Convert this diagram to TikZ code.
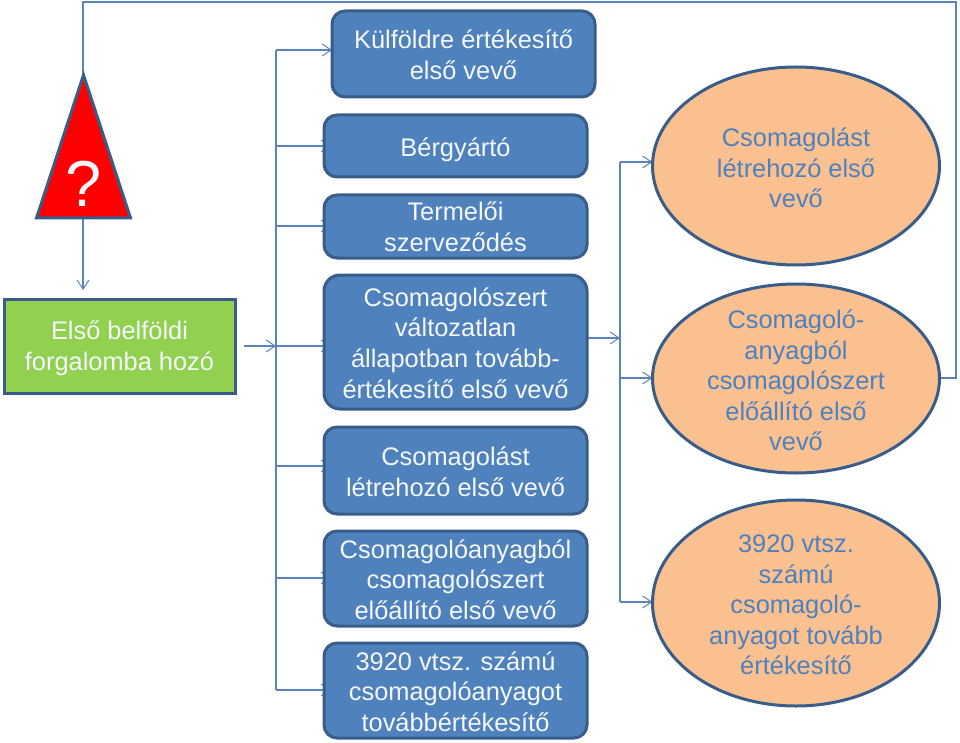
\documentclass[tikz,border=0pt]{standalone}
\usepackage{fontspec}
\setmainfont{Liberation Sans}
\usetikzlibrary{arrows.meta,backgrounds,shapes.geometric}
\definecolor{boxblue}{HTML}{4F81BD}
\definecolor{edgeblue}{HTML}{385D8A}
\definecolor{linkblue}{HTML}{5B84B8}
\definecolor{peach}{HTML}{FAC08F}
\definecolor{leaf}{HTML}{92D050}
\definecolor{softwhite}{HTML}{F4F7FB}
\tikzset{
  x=1pt,y=-1pt,
  lbl/.style={font=\fontsize{25.4}{30.6}\selectfont,align=center,inner sep=0pt,outer sep=0pt},
  light/.style={lbl,text=softwhite},
  dark/.style={lbl,text=boxblue},
  bluebox/.style={draw=edgeblue,line width=3pt,fill=boxblue,rounded corners=13pt,minimum width=263pt,inner sep=0pt,outer sep=0pt},
  greenbox/.style={draw=edgeblue,line width=3pt,fill=leaf,minimum width=231pt,minimum height=94pt,inner sep=0pt,outer sep=0pt},
  oval/.style={ellipse,draw=edgeblue,line width=3pt,fill=peach,minimum width=287pt,inner sep=0pt,outer sep=0pt},
  link/.style={draw=linkblue,line width=1.2pt},
  arrowlink/.style={link,-{Straight Barb[length=9pt,width=12pt,line width=1pt]}},
  hidden/.style={arrowlink,shorten >=-7pt}
}
\begin{document}
\begin{tikzpicture}
\useasboundingbox (0,0) rectangle (960,743);
% blue boxes
\node[bluebox,minimum height=86pt,label={[light,yshift=-1pt]center:{Külföldre értékesítő\\első vevő}}] (export) at (463.5,54) {};
\node[bluebox,minimum height=62pt,label={[light,yshift=-4pt]center:{Bérgyártó}}] (berg) at (455.5,146) {};
\node[bluebox,minimum height=63pt,label={[light,yshift=0pt]center:{Termelői\\szerveződés}}] (term) at (455.5,226.5) {};
\node[bluebox,minimum height=134pt,rounded corners=16pt,label={[light,yshift=-1pt]center:{Csomagolószert\\változatlan\\állapotban tovább-\\értékesítő első vevő}}] (valt) at (455.5,342) {};
\node[bluebox,minimum height=87pt,label={[light,yshift=-1pt]center:{Csomagolást\\létrehozó első vevő}}] (letr) at (455.5,470.5) {};
\node[bluebox,minimum height=95pt,label={[light,yshift=-1pt]center:{Csomagolóanyagból\\csomagolószert\\előállító első vevő}}] (anyag) at (455.5,578.5) {};
\node[bluebox,minimum height=95pt,label={[light,yshift=-1pt]center:{3920 vtsz. számú\\csomagolóanyagot\\továbbértékesítő}}] (vtsz) at (455.5,690.5) {};
% green box
\node[greenbox,label={[light,yshift=-2pt]center:{Első belföldi\\forgalomba hozó}}] (first) at (119.5,346) {};
% triangle
\node[inner sep=0pt,outer sep=0pt,minimum width=94pt,minimum height=143pt] (tri) at (83.5,146.5) {};
\draw[edgeblue,line width=3pt,fill=red,line join=miter] (tri.north) -- (tri.south west) -- (tri.south east) -- cycle;
\node[font=\fontsize{65}{65}\selectfont,text=softwhite,inner sep=0pt] (qm) at (tri.center) [yshift=-37.5pt] {?};
% ellipses
\node[oval,minimum height=198pt,label={[dark,yshift=-2pt]center:{Csomagolást\\létrehozó első\\vevő}}] (o1) at (796,166) {};
\node[oval,minimum height=189pt,label={[dark,yshift=-2pt]center:{Csomagoló-\\anyagból\\csomagolószert\\előállító első\\vevő}}] (o2) at (796,378.5) {};
\node[oval,minimum height=206pt,label={[dark,yshift=-2pt]center:{3920 vtsz.\\számú\\csomagoló-\\anyagot tovább\\értékesítő}}] (o3) at (796,603) {};
% junctions
\coordinate (s1) at (276,50);
\coordinate (s2) at (276,146);
\coordinate (s3) at (276,226);
\coordinate (s4) at (276,346);
\coordinate (s5) at (276,466);
\coordinate (s6) at (276,578);
\coordinate (s7) at (276,690);
\coordinate (g0) at (244,346);
\coordinate (r0) at (620,338);
\coordinate (r1) at (620,162);
\coordinate (r2) at (620,378);
\coordinate (r3) at (620,602);
\coordinate (topl) at (83,2);
\coordinate (topr) at (956,2);
\coordinate (rgt) at (956,378);
\coordinate (dn) at (83,290);
\begin{scope}[on background layer]
  \draw[link] (s1) -- (s7);
  \draw[link] (r1) -- (r3);
  \draw[arrowlink] (s1) -- (s1 -| export.west);
  \draw[hidden] (s2) -- (s2 -| berg.west);
  \draw[hidden] (s3) -- (s3 -| term.west);
  \draw[hidden] (s4) -- (s4 -| valt.west);
  \draw[hidden] (s5) -- (s5 -| letr.west);
  \draw[hidden] (s6) -- (s6 -| anyag.west);
  \draw[hidden] (s7) -- (s7 -| vtsz.west);
  \draw[arrowlink] (g0) -- (s4);
  \draw[arrowlink] (valt.east |- r0) -- (r0);
  \draw[arrowlink] (r1) -- (r1 -| o1.west);
  \draw[arrowlink] (r2) -- (r2 -| o2.west);
  \draw[arrowlink] (r3) -- (r3 -| o3.west);
  \draw[arrowlink] (tri.south -| dn) -- (dn);
  \draw[link] (tri.north -| topl) -- (topl) -- (topr) -- (rgt) -- (o2.east |- rgt);
\end{scope}
\end{tikzpicture}
\end{document}
